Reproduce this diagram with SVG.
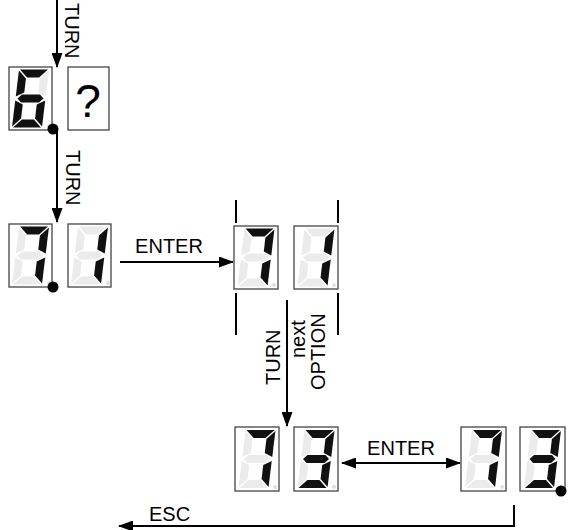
<svg xmlns="http://www.w3.org/2000/svg" xmlns:xlink="http://www.w3.org/1999/xlink" width="569" height="530" viewBox="0 0 569 530">
<style>
.box{fill:#fff;stroke:#444;stroke-width:1.3}
.on{fill:#111}
.off{fill:#ebebeb}
.dp{fill:#e0e0e0}
.led{fill:#000}
.ln{fill:none;stroke:#000;stroke-width:2}
.br{stroke:#000;stroke-width:2}
.t{font-family:"Liberation Sans",Arial,sans-serif;font-size:20px;fill:#000}
</style>
<defs>
<marker id="ah" markerUnits="userSpaceOnUse" markerWidth="15" markerHeight="11" refX="14" refY="5.5" orient="auto-start-reverse"><path d="M0,0 L15,5.5 L0,11 z" fill="#000"/></marker>
<polygon id="sa" points="-14,-29 14,-29 6,-21 -6,-21"/>
<polygon id="sb" points="15,-28 15,-2 7,-6 7,-20"/>
<polygon id="sc" points="15,2 15,28 7,20 7,6"/>
<polygon id="sd" points="-6,21 6,21 14,29 -14,29"/>
<polygon id="se" points="-15,2 -7,6 -7,20 -15,28"/>
<polygon id="sf" points="-15,-28 -7,-20 -7,-6 -15,-2"/>
<polygon id="sg" points="-13,0 -9,-4 9,-4 13,0 9,4 -9,4"/>
</defs>

<g id="connectors">
<path class="ln" d="M57,0 V67" marker-end="url(#ah)"/>
<path class="ln" d="M57,129 V222" marker-end="url(#ah)"/>
<path class="ln" d="M120,262 H233" marker-end="url(#ah)"/>
<path class="ln" d="M287,300 V426" marker-end="url(#ah)"/>
<path class="ln" d="M342,463 H460" marker-start="url(#ah)" marker-end="url(#ah)"/>
<path class="ln" d="M514,505 V526 H119" marker-end="url(#ah)"/>
<line class="br" x1="236" y1="200" x2="236" y2="223"/>
<line class="br" x1="338" y1="200" x2="338" y2="223"/>
<line class="br" x1="236" y1="293" x2="236" y2="335"/>
<line class="br" x1="338" y1="293" x2="338" y2="335"/>
<text class="t" transform="translate(65,3) rotate(90)">TURN</text>
<text class="t" transform="translate(66,150) rotate(90)">TURN</text>
<text class="t" x="169" y="253" text-anchor="middle">ENTER</text>
<text class="t" transform="translate(280,385) rotate(-90)">TURN</text>
<text class="t" transform="translate(305,358) rotate(-90)">next</text>
<text class="t" transform="translate(325,390) rotate(-90)">OPTION</text>
<text class="t" x="401" y="455" text-anchor="middle">ENTER</text>
<text class="t" x="149" y="521">ESC</text>
</g>

<g id="d6">
<rect class="box" x="9" y="67" width="43" height="63"/>
<circle class="dp" cx="49" cy="126" r="2"/>
<g transform="translate(30.5,98.5) skewX(-7)">
<use href="#sa" class="on"/><use href="#sb" class="off"/><use href="#sc" class="on"/><use href="#sd" class="on"/><use href="#se" class="on"/><use href="#sf" class="on"/><use href="#sg" class="on"/>
</g>
<circle class="led" cx="53" cy="129" r="5.5"/>
</g>

<g id="dq">
<rect class="box" x="68" y="67" width="41" height="63"/>
<text x="88" y="117" text-anchor="middle" style="font-family:'Liberation Sans',Arial,sans-serif;font-size:46px;fill:#000">?</text>
</g>

<g id="d7a">
<rect class="box" x="9" y="224" width="43" height="63"/>
<circle class="dp" cx="49" cy="283" r="2"/>
<g transform="translate(30.5,255.5) skewX(-7)">
<use href="#sa" class="on"/><use href="#sb" class="on"/><use href="#sc" class="on"/><use href="#sd" class="off"/><use href="#se" class="off"/><use href="#sf" class="off"/><use href="#sg" class="off"/>
</g>
<circle class="led" cx="53" cy="287" r="5.5"/>
</g>

<g id="d1a">
<rect class="box" x="68" y="224" width="43" height="63"/>
<circle class="dp" cx="108" cy="283" r="2"/>
<g transform="translate(89.5,255.5) skewX(-7)">
<use href="#sa" class="off"/><use href="#sb" class="on"/><use href="#sc" class="on"/><use href="#sd" class="off"/><use href="#se" class="off"/><use href="#sf" class="off"/><use href="#sg" class="off"/>
</g>
</g>

<g id="d7b">
<rect class="box" x="234" y="226" width="44" height="63"/>
<circle class="dp" cx="274" cy="285" r="2"/>
<g transform="translate(256,257.5) skewX(-7)">
<use href="#sa" class="on"/><use href="#sb" class="on"/><use href="#sc" class="on"/><use href="#sd" class="off"/><use href="#se" class="off"/><use href="#sf" class="off"/><use href="#sg" class="off"/>
</g>
</g>

<g id="d1b">
<rect class="box" x="294" y="226" width="44" height="63"/>
<circle class="dp" cx="334" cy="285" r="2"/>
<g transform="translate(316,257.5) skewX(-7)">
<use href="#sa" class="off"/><use href="#sb" class="on"/><use href="#sc" class="on"/><use href="#sd" class="off"/><use href="#se" class="off"/><use href="#sf" class="off"/><use href="#sg" class="off"/>
</g>
</g>

<g id="d7c">
<rect class="box" x="235" y="427" width="44" height="64"/>
<circle class="dp" cx="275" cy="487" r="2"/>
<g transform="translate(257,459) skewX(-7)">
<use href="#sa" class="on"/><use href="#sb" class="on"/><use href="#sc" class="on"/><use href="#sd" class="off"/><use href="#se" class="off"/><use href="#sf" class="off"/><use href="#sg" class="off"/>
</g>
</g>

<g id="d3c">
<rect class="box" x="294" y="427" width="44" height="64"/>
<circle class="dp" cx="334" cy="487" r="2"/>
<g transform="translate(316,459) skewX(-7)">
<use href="#sa" class="on"/><use href="#sb" class="on"/><use href="#sc" class="on"/><use href="#sd" class="on"/><use href="#se" class="off"/><use href="#sf" class="off"/><use href="#sg" class="on"/>
</g>
</g>

<g id="d7d">
<rect class="box" x="461" y="427" width="45" height="64"/>
<circle class="dp" cx="502" cy="487" r="2"/>
<g transform="translate(483.5,459) skewX(-7)">
<use href="#sa" class="on"/><use href="#sb" class="on"/><use href="#sc" class="on"/><use href="#sd" class="off"/><use href="#se" class="off"/><use href="#sf" class="off"/><use href="#sg" class="off"/>
</g>
</g>

<g id="d3d">
<rect class="box" x="520" y="427" width="45" height="64"/>
<circle class="dp" cx="561" cy="487" r="2"/>
<g transform="translate(542.5,459) skewX(-7)">
<use href="#sa" class="on"/><use href="#sb" class="on"/><use href="#sc" class="on"/><use href="#sd" class="on"/><use href="#se" class="off"/><use href="#sf" class="off"/><use href="#sg" class="on"/>
</g>
<circle class="led" cx="561" cy="491" r="5.5"/>
</g>
</svg>
